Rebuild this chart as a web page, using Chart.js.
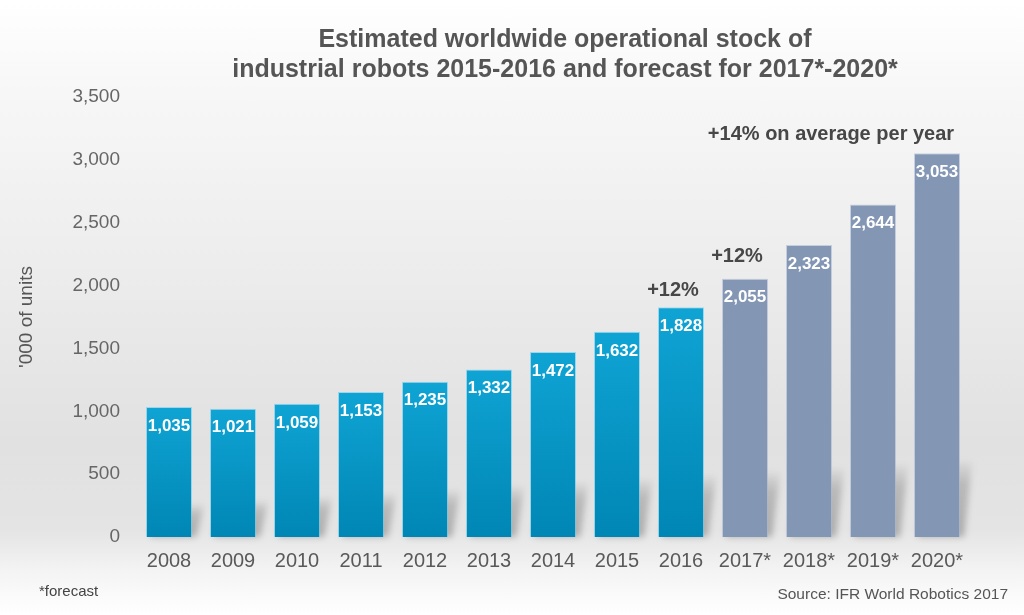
<!DOCTYPE html>
<html lang="en">
  <head>
    <meta charset="UTF-8" />
    <title>Operational stock of industrial robots</title>
    <style>
      body {
        margin: 0;
        font-family: "Liberation Sans", Arial, sans-serif;
      }
      .wrap {
        position: relative;
        width: 1024px;
        height: 615px;
        overflow: hidden;
        background: linear-gradient(
          to bottom,
          #ffffff 0%,
          #f7f7f7 15%,
          #ececec 45%,
          #e1e1e1 72%,
          #e4e4e4 86%,
          #f4f4f4 93%,
          #ffffff 100%
        );
      }
      .title {
        position: absolute;
        left: 565px;
        top: 23px;
        transform: translateX(-50%);
        white-space: nowrap;
        text-align: center;
        font-weight: bold;
        font-size: 25px;
        line-height: 30px;
        color: #555;
      }
      .note {
        position: absolute;
        left: 39px;
        top: 582px;
        font-size: 15px;
        color: #444;
      }
      .source {
        position: absolute;
        right: 16px;
        top: 585px;
        font-size: 15.5px;
        color: #555;
      }
      canvas {
        position: absolute;
        left: 0;
        top: 0;
      }
    </style>
  </head>
  <body>
    <div class="wrap">
      <canvas id="stockChart" width="1024" height="615"></canvas>
      <div class="title">
        Estimated worldwide operational stock of<br />
        industrial robots 2015-2016 and forecast for 2017*-2020*
      </div>
      <div class="note">*forecast</div>
      <div class="source">Source: IFR World Robotics 2017</div>
    </div>
    <script src="https://cdn.jsdelivr.net/npm/chart.js"></script>
    <script>
      const years = ["2008", "2009", "2010", "2011", "2012", "2013", "2014", "2015", "2016", "2017*", "2018*", "2019*", "2020*"];
      const stock = [1035, 1021, 1059, 1153, 1235, 1332, 1472, 1632, 1828, 2055, 2323, 2644, 3053];
      const yTicks = [0, 500, 1000, 1500, 2000, 2500, 3000, 3500];
      const growthLabels = ["+12%", "+12%"];
      const growthYears = ["2016", "2017*"];
      const averageLabel = "+14% on average per year";

      const isForecast = (i) => years[i].endsWith("*");
      const fmt = (v) => v.toLocaleString("en-US");
      const FONT = '"Liberation Sans", Arial, sans-serif';

      function barFill(ctx) {
        const chart = ctx.chart;
        const i = ctx.dataIndex;
        if (isForecast(i)) return "#8396b4";
        if (!chart.chartArea || !chart.scales.y) return "#0a98c8";
        const y = chart.scales.y;
        const top = y.getPixelForValue(stock[i]);
        const base = y.getPixelForValue(0);
        const g = chart.ctx.createLinearGradient(0, top, 0, base);
        g.addColorStop(0, "#0fa4d4");
        g.addColorStop(1, "#0086b4");
        return g;
      }

      // soft shadow cast behind each bar
      const shadows = {
        id: "shadows",
        beforeDatasetsDraw(chart) {
          const ctx = chart.ctx;
          const bars = chart.getDatasetMeta(0).data;
          ctx.save();
          ctx.filter = "blur(3px)";
          bars.forEach((b, i) => {
            const hs = 32 + (43 * i) / (bars.length - 1);
            const l = b.x - b.width / 2;
            const r = b.x + b.width / 2;
            const g = ctx.createLinearGradient(0, b.base, 0, b.base - hs);
            g.addColorStop(0, "rgba(80, 80, 80, 0.38)");
            g.addColorStop(0.7, "rgba(80, 80, 80, 0.28)");
            g.addColorStop(1, "rgba(80, 80, 80, 0.05)");
            ctx.fillStyle = g;
            ctx.beginPath();
            ctx.moveTo(l + 4, b.base);
            ctx.lineTo(r + 4, b.base);
            ctx.lineTo(r + 12, b.base - hs);
            ctx.lineTo(l + 12, b.base - hs);
            ctx.closePath();
            ctx.fill();
          });
          ctx.restore();
        },
      };

      const barText = {
        id: "barText",
        afterDatasetsDraw(chart) {
          const ctx = chart.ctx;
          const bars = chart.getDatasetMeta(0).data;
          ctx.save();
          ctx.textAlign = "center";
          ctx.textBaseline = "middle";
          ctx.fillStyle = "#ffffff";
          ctx.font = "bold 17px " + FONT;
          bars.forEach((b, i) => ctx.fillText(fmt(stock[i]), b.x, b.y + 19));

          ctx.fillStyle = "#474747";
          ctx.font = "bold 20px " + FONT;
          growthYears.forEach((yr, k) => {
            const i = years.indexOf(yr);
            const b = bars[i];
            const lift = isForecast(i) ? 22 : 17;
            ctx.fillText(growthLabels[k], b.x - 8, b.y - lift);
          });
          const last = bars[bars.length - 1];
          const prev = bars[bars.length - 3];
          ctx.fillText(averageLabel, (prev.x + last.x) / 2 - 42, last.y - 19);
          ctx.restore();
        },
      };

      new Chart(document.getElementById("stockChart"), {
        type: "bar",
        data: {
          labels: years,
          datasets: [
            {
              data: stock,
              backgroundColor: barFill,
              borderColor: (c) => (isForecast(c.dataIndex) ? "rgba(170,185,210,0.6)" : "rgba(110,205,240,0.6)"),
              borderWidth: 1,
              barPercentage: 0.72,
              categoryPercentage: 1.0,
            },
          ],
        },
        options: {
          responsive: false,
          animation: false,
          layout: { padding: { top: 97, right: 55, bottom: 0, left: 0 } },
          plugins: {
            legend: { display: false },
            tooltip: { enabled: false },
          },
          scales: {
            x: {
              grid: { display: false, drawTicks: false },
              border: { display: false },
              ticks: {
                padding: 12,
                color: "#595959",
                font: { family: FONT, size: 20 },
              },
              afterFit: (s) => { s.height = 78; },
            },
            y: {
              min: 0,
              max: 3500,
              grid: { display: false, drawTicks: false },
              border: { display: false },
              afterBuildTicks: (s) => { s.ticks = yTicks.map((v) => ({ value: v })); },
              ticks: {
                padding: 17,
                color: "#666",
                font: { family: FONT, size: 19 },
                callback: (v) => fmt(v),
              },
              title: {
                display: true,
                text: "'000 of units",
                color: "#555",
                padding: { top: 15, bottom: 0 },
                font: { family: FONT, size: 19 },
              },
              afterFit: (s) => { s.width = 137; },
            },
          },
        },
        plugins: [shadows, barText],
      });
    </script>
  </body>
</html>
